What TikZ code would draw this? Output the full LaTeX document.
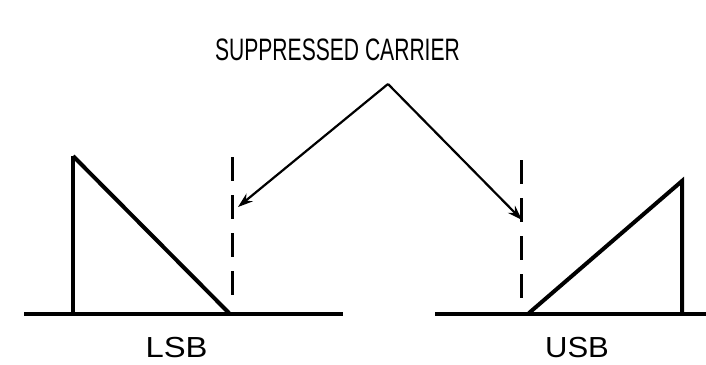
\documentclass[tikz,border=0pt]{standalone}
\usepackage{fontspec}
\setmainfont{Liberation Sans}
\usetikzlibrary{arrows.meta}
\begin{document}
\begin{tikzpicture}[x=1pt,y=-1pt,
  axis/.style={line width=4.5pt},
  edge/.style={line width=4pt},
  carrier/.style={line width=3pt, dash pattern=on 24pt off 14pt},
  pointer/.style={line width=2.2pt, -{Stealth[length=15pt,width=10pt]}},
  lbl/.style={font=\fontsize{31}{31}\selectfont, inner sep=0pt},
  sblbl/.style={font=\fontsize{29}{29}\selectfont, inner sep=0pt, anchor=base}]
\useasboundingbox (0,0) rectangle (706,364);
% labels
\node[lbl, xscale=0.68] (title) at (337.5,50) {SUPPRESSED\ CARRIER};
\node[sblbl, xscale=1.13] (lsb) at (176.5,357) {LSB};
\node[sblbl, xscale=1.07] (usb) at (577,357) {USB};
% baselines
\coordinate (l0) at (24,314); \coordinate (l1) at (343,314);
\coordinate (r0) at (435,314); \coordinate (r1) at (706,314);
\draw[axis] (l0) -- (l1);
\draw[axis] (r0) -- (r1);
% LSB triangle
\coordinate (la) at (73,314); \coordinate (lt) at (73,156); \coordinate (lb) at (229,313);
\draw[line width=3.5pt] (la) -- (lt);
\draw[edge] (lt) -- (lb);
% USB triangle
\coordinate (ra) at (529,313); \coordinate (rt) at (682,181); \coordinate (rb) at (682,314);
\draw[edge] (ra) -- (rt) -- (rb);
% carriers
\coordinate (c1t) at (232,157); \coordinate (c1b) at (232,302);
\coordinate (c2t) at (521,160); \coordinate (c2b) at (521,305);
\draw[carrier] (c1t) -- (c1b);
\draw[carrier] (c2t) -- (c2b);
% pointers
\coordinate (apex) at (388,84);
\coordinate (p1) at (238,207);
\coordinate (p2) at (522,220);
\draw[pointer] (apex) -- (p1);
\draw[pointer] (apex) -- (p2);
\end{tikzpicture}
\end{document}
